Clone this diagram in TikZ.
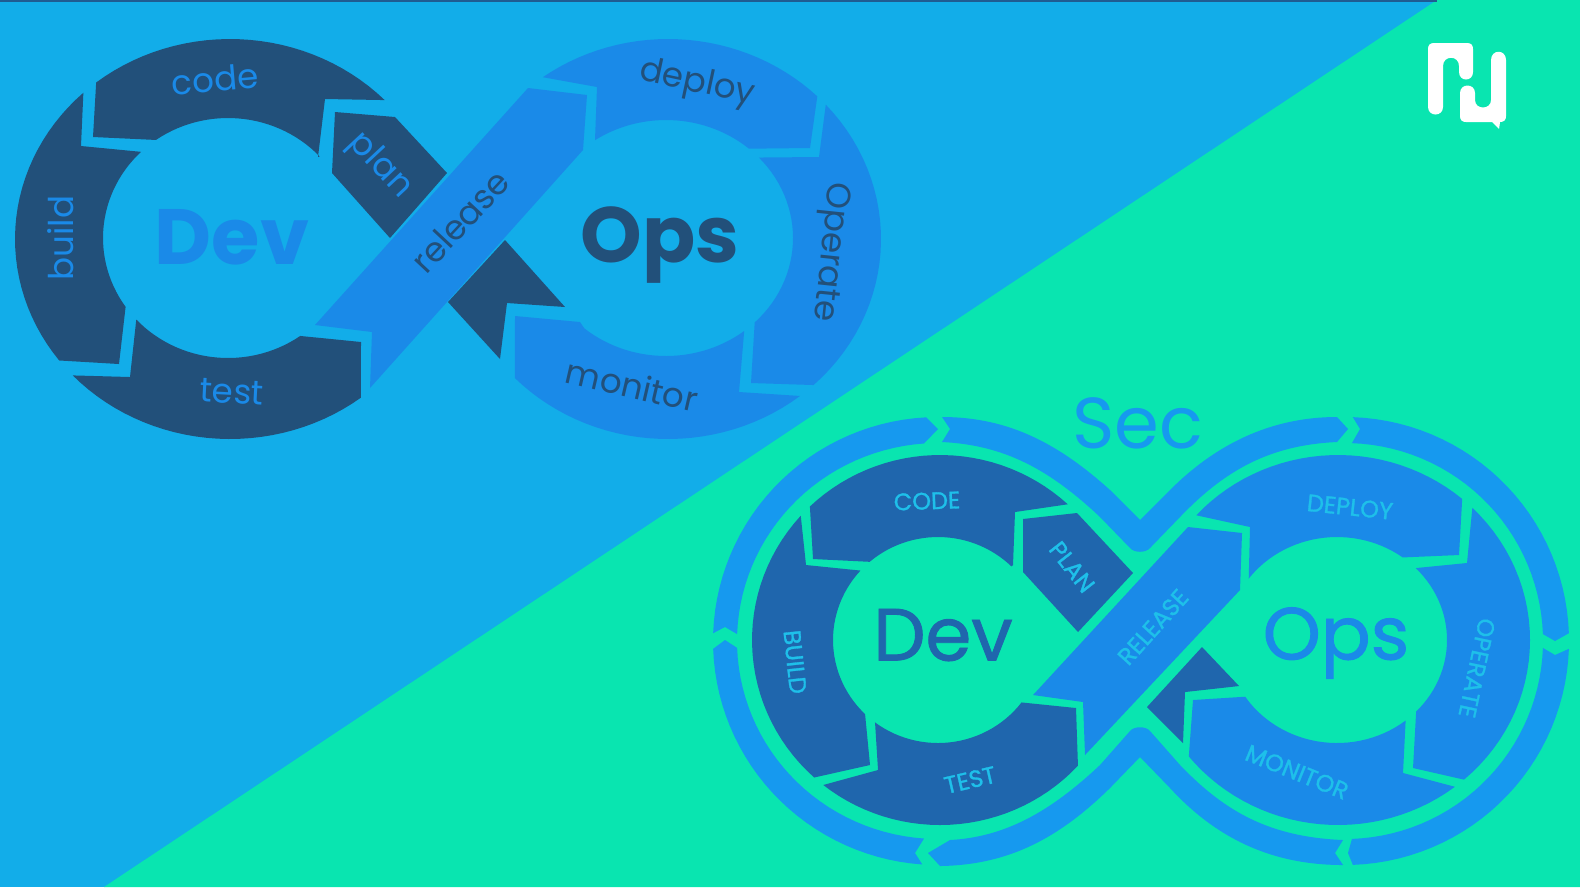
\documentclass[tikz,border=0pt]{standalone}
\usepackage{fontspec}
\setmainfont{Poppins}
\newfontfamily\medfont[FakeBold=1.2]{Poppins}
\definecolor{skybg}{HTML}{12ADE9}
\definecolor{greenbg}{HTML}{09E5B0}
\definecolor{topstrip}{HTML}{1F5C92}
\definecolor{navyseg}{HTML}{22507A}
\definecolor{blueseg}{HTML}{1A8AE8}
\definecolor{royalseg}{HTML}{1F66AD}
\definecolor{ringseg}{HTML}{1699EF}
\definecolor{capcyan}{HTML}{1EC0EA}
\newcommand{\ovalpart}[6]{plot[domain=#5:#6, samples=30] ({#1+#3*cos(\x)},{#2+#4*sin(\x)})}
\newcommand{\ovaljoin}[6]{-- plot[domain=#5:#6, samples=30] ({#1+#3*cos(\x)},{#2+#4*sin(\x)})}
\tikzset{
    navy/.style={fill=navyseg},
    bluep/.style={fill=blueseg},
    royal/.style={fill=royalseg},
    ringp/.style={fill=ringseg},
    toplabel/.style={inner sep=0pt, font=\fontsize{9.7}{11}\selectfont},
    caplabel/.style={inner sep=0pt, text=capcyan, font=\medfont\fontsize{6.8}{8}\selectfont},
    bigbold/.style={inner sep=0pt, font=\bfseries\fontsize{22.3}{26}\selectfont},
    bigmed/.style={inner sep=0pt, font=\medfont\fontsize{21}{24}\selectfont},
}
\begin{document}
\begin{tikzpicture}[x=0.01cm, y=-0.01cm]
    \useasboundingbox (0,0) rectangle (1580,887);
    \fill[skybg] (0,0) rectangle (1580,887);
    \fill[greenbg] (1437,0) -- (1580,0) -- (1580,887) -- (104,887) -- cycle;
    \fill[topstrip] (0,0) rectangle (1437,2);

    % upper figure
    \path[navy] \ovalpart{230}{239}{215}{200}{231.5}{316} -- (325,99) -- (318,157) \ovaljoin{228}{238}{125}{120}{317.2}{234.8} -- (93,137) -- cycle;
    \path[navy] (335,112) -- (395,117) -- (447,173) -- (390,238) -- (332,173) -- cycle;
    \path[navy] (81,146) \ovaljoin{228}{238}{125}{120}{225.9}{145} -- (119,364) \ovaljoin{230}{239}{215}{200}{142.6}{227} -- cycle;
    \path[navy] (130,377) \ovaljoin{228}{238}{125}{120}{137.2}{54.7} -- (361,342) \ovaljoin{230}{239}{215}{200}{52.5}{137} -- cycle;
    \path[navy] (505,240) -- (565,307) -- (507,303) -- (500,359) -- (448,302) -- cycle;
    \path[bluep] (315,325) -- (528,88) -- (587,95) -- (583,150) -- (370,388) -- (372,332) -- cycle;
    \path[bluep] \ovalpart{668}{239}{213}{200}{234}{314.5} -- (810,148) \ovaljoin{666}{238}{127}{118}{310.8}{236} -- (597,87) -- cycle;
    \path[bluep] \ovalpart{668}{239}{213}{200}{317.8}{406.9} -- (751,383) \ovaljoin{666}{238}{127}{118}{405.7}{317} -- (819,157) -- cycle;
    \path[bluep] (515,316) -- (580,322) \ovaljoin{666}{238}{127}{118}{130}{52} -- (739,392) \ovaljoin{668}{239}{213}{200}{51.7}{136} -- cycle;

    \node[toplabel, text=blueseg, rotate=5] (code) at (215,79) {code};
    \node[toplabel, text=blueseg, rotate=-47] (plan) at (380,166) {plan};
    \node[toplabel, text=blueseg, rotate=90] (build) at (61,238) {build};
    \node[toplabel, text=blueseg, rotate=-3] (test) at (232,392) {test};
    \node[toplabel, text=navyseg, rotate=47] (release) at (460,221) {release};
    \node[toplabel, text=navyseg, rotate=-12] (deploy) at (697,84) {deploy};
    \node[toplabel, text=navyseg, rotate=-96] (operate) at (829,252) {Operate};
    \node[toplabel, text=navyseg, rotate=-13] (monitor) at (632,385) {monitor};
    \node[bigbold, text=blueseg] (dev) at (232,237) {Dev};
    \node[bigbold, text=navyseg] (ops) at (660,245) {Ops};

    % lower figure, outer ring
    \path[ringp] \ovalpart{938}{641}{225}{224}{182}{267} -- (938,429) \ovaljoin{938}{641}{201}{198}{266}{182} -- (725,627) -- cycle;
    \path[ringp] (942,417) .. controls (1010,417) and (1060,445) .. (1110,490) -- (1140,520) -- (1170,490) .. controls (1215,445) and (1270,417) .. (1337,417) -- (1348,429) -- (1337,442) .. controls (1270,445) and (1225,470) .. (1180,517) -- (1150,548) .. controls (1146,553) and (1134,553) .. (1130,548) -- (1100,517) .. controls (1050,470) and (1005,445) .. (942,442) -- (950,429) -- cycle;
    \path[ringp] \ovalpart{1345}{641}{224}{224}{272}{358} -- (1555,641) \ovaljoin{1345}{641}{198}{198}{358}{272} -- (1360,429) -- cycle;
    \path[ringp] \ovalpart{1345}{641}{224}{224}{2}{88} -- (1348,853) \ovaljoin{1345}{641}{198}{198}{88}{2} -- (1555,655) -- cycle;
    \path[ringp] (1343,865) -- (1335,853) -- (1343,840) .. controls (1270,837) and (1225,812) .. (1180,765) -- (1150,731) .. controls (1146,726) and (1134,726) .. (1130,731) -- (1100,765) .. controls (1050,812) and (1005,837) .. (950,840) -- (928,853) -- (940,866) .. controls (1010,865) and (1060,837) .. (1110,788) -- (1140,757) -- (1170,788) .. controls (1215,837) and (1270,865) .. (1343,865) -- cycle;
    \path[ringp] (915,853) \ovaljoin{938}{641}{225}{224}{94}{178} -- (725,640) \ovaljoin{938}{641}{201}{198}{178}{94} -- cycle;

    % lower figure, inner loop
    \path[royal] \ovalpart{940}{640}{188}{185}{226.2}{312.8} -- (1015,512) -- (1013,565) \ovaljoin{938}{640}{105}{103}{314.4}{229.4} -- (813,559) -- cycle;
    \path[royal] (1023,519) -- (1077,513) -- (1133,573) -- (1078,632) -- (1023,572) -- cycle;
    \path[royal] (806,565) \ovaljoin{938}{640}{105}{103}{222.4}{134} -- (870,765) \ovaljoin{940}{640}{188}{185}{132}{222.2} -- cycle;
    \path[royal] (878,770) -- (875,722) \ovaljoin{938}{640}{105}{103}{127}{37.3} -- (1076,708) \ovaljoin{940}{640}{188}{185}{42.8}{128.4} -- cycle;
    \path[royal] (1202,647) -- (1239,686) -- (1185,692) -- (1183,743) -- (1147,707) -- cycle;
    \path[bluep] (1033,695) -- (1188,527) -- (1242,533) -- (1240,590) -- (1085,755) -- (1083,702) -- cycle;
    \path[bluep] \ovalpart{1338}{640}{192}{185}{222.4}{310.3} -- (1459,555) \ovaljoin{1337}{640}{110}{103}{306.7}{216.6} -- (1250,527) -- cycle;
    \path[bluep] \ovalpart{1338}{640}{192}{185}{314.4}{409} -- (1413,768) \ovaljoin{1337}{640}{110}{103}{404}{315.7} -- (1467,563) -- cycle;
    \path[bluep] (1193,700) \ovaljoin{1337}{640}{110}{103}{146.6}{51.4} -- (1403,773) \ovaljoin{1338}{640}{192}{185}{52.5}{141} -- cycle;

    \node[caplabel, rotate=2] (codecap) at (927,501) {CODE};
    \node[caplabel, rotate=-52] (plancap) at (1072,567) {PLAN};
    \node[caplabel, rotate=-84] (buildcap) at (795,662) {BUILD};
    \node[caplabel, rotate=13] (testcap) at (970,780) {TEST};
    \node[caplabel, rotate=48] (releasecap) at (1153,627) {RELEASE};
    \node[caplabel, rotate=-6] (deploycap) at (1350,507) {DEPLOY};
    \node[caplabel, rotate=-102] (operatecap) at (1477,668) {OPERATE};
    \node[caplabel, rotate=-22] (monitorcap) at (1297,772) {MONITOR};
    \node[bigmed, text=royalseg] (devcap) at (943,635) {Dev};
    \node[bigmed, text=blueseg] (opscap) at (1336,643) {Ops};
    \node[inner sep=0pt, text=ringseg, font=\fontsize{20.5}{26}\selectfont] (sec) at (1138,423) {Sec};

    % logo
    \fill[white] (1428,49) .. controls (1428,45) and (1430,43) .. (1434,43) -- (1467,43) .. controls (1471,43) and (1473,45) .. (1473,49) -- (1473,72) .. controls (1473,82) and (1459,82) .. (1459,72) -- (1459,66) .. controls (1459,55) and (1443,55) .. (1443,66) -- (1443,107) .. controls (1443,117) and (1428,117) .. (1428,107) -- cycle;
    \fill[white] (1491,60) .. controls (1491,49) and (1506,49) .. (1506,60) -- (1506,116) .. controls (1506,120) and (1504,122) .. (1500,122) -- (1499,129) -- (1492,122) -- (1466,122) .. controls (1462,122) and (1460,120) .. (1460,116) -- (1460,93) .. controls (1460,83) and (1475,83) .. (1475,93) -- (1475,100) .. controls (1475,110) and (1491,110) .. (1491,100) -- cycle;
\end{tikzpicture}
\end{document}
